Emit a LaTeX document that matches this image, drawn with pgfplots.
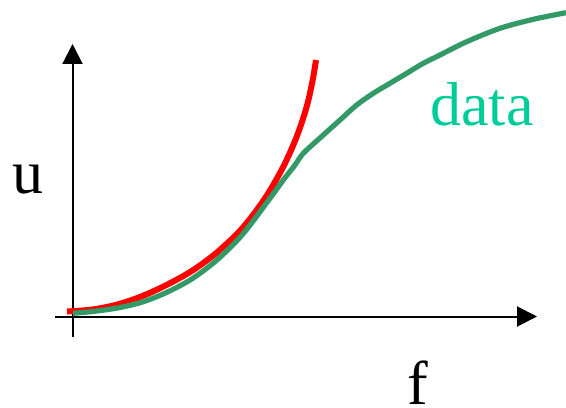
\documentclass[border=0pt]{standalone}
\usepackage{pgfplots}
\pgfplotsset{compat=1.18}
\usetikzlibrary{arrows.meta}
\usepackage{fontspec}
\setmainfont{Liberation Serif}
\definecolor{redc}{RGB}{255,0,0}
\definecolor{greenc}{RGB}{51,153,102}
\definecolor{textc}{RGB}{0,204,153}
\begin{document}
\begin{tikzpicture}
\begin{axis}[
  scale only axis,
  width=361.5pt, height=219.75pt,
  xmin=-17.5, xmax=464.5, ymin=-20.5, ymax=272.5,
  axis lines=middle,
  xtick=\empty, ytick=\empty,
  clip=false,
  axis line style={line width=1.5pt, black},
  every inner x axis line/.append style={-{Triangle[length=15pt,width=15pt]}},
  every inner y axis line/.append style={-{Triangle[length=15pt,width=15pt]}},
]
\addplot[redc, line width=4.5pt, smooth, tension=0.5] coordinates {
(-5.5,5) (20,7) (45,12) (70,20.5) (95,32) (120,46) (145,64.5) (170,88.5)
(192.5,118.2) (210.8,149.8) (224.2,179.8) (234.2,209.8) (240.2,236.5) (243.5,256.5)
};
\addplot[greenc, line width=3.9pt, smooth, tension=0.5] coordinates {
(0.5,3.2) (20,5) (45,8.5) (70,14.5) (95,24.5) (120,38) (145,57) (170,82)
(197.5,118.2) (210.8,136.5) (222.5,151.5) (230.8,163.2) (250.8,181.5) (267.5,196.5)
(284.2,211.5) (300.8,223.2) (317.5,233.2) (334.2,243.2) (350.8,253.2) (367.5,261.5)
(394.2,274.8) (427.5,288.2) (460.8,297.2) (493.5,303.8)
};
\node[anchor=base, inner sep=0pt, font=\fontsize{46.5}{50}\selectfont] at (axis cs:-44.5,123.5) {u};
\node[anchor=base, inner sep=0pt, font=\fontsize{46.5}{50}\selectfont] at (axis cs:345.5,-88) {f};
\node[anchor=base west, inner sep=0pt, text=textc, font=\fontsize{46.5}{50}\selectfont] at (axis cs:357.5,191.5) {data};
\coordinate (bl) at (axis cs:-72.5,-90.5);
\coordinate (tr) at (axis cs:493.5,316.5);
\end{axis}
\pgfresetboundingbox
\path[use as bounding box] (bl) rectangle (tr);
\end{tikzpicture}
\end{document}
